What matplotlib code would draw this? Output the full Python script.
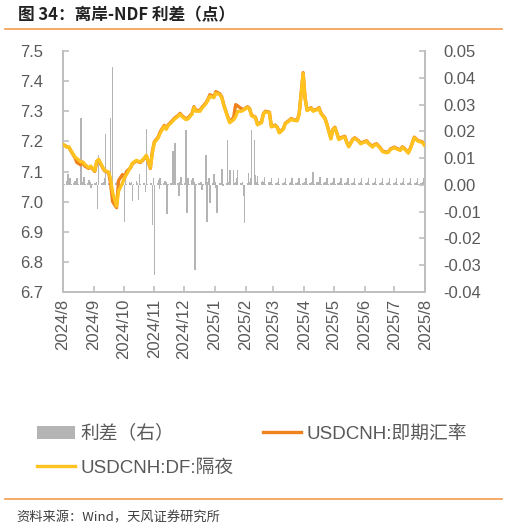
import matplotlib
matplotlib.use('Agg')
import matplotlib.pyplot as plt
import matplotlib.dates as mdates
from matplotlib.ticker import FuncFormatter, MultipleLocator
from matplotlib.lines import Line2D
import pandas as pd

plt.rcParams['font.family'] = ['Liberation Sans', 'Noto Sans CJK SC']

start = '2024-08-01'

# USDCNH spot (every 2nd business day)
spot = [7.190, 7.182, 7.180, 7.168, 7.146, 7.130, 7.122, 7.131, 7.118, 7.110,
        7.116, 7.100, 7.132, 7.138, 7.112, 7.102, 7.096, 7.060, 7.000, 6.980,
        7.070, 7.090, 7.078, 7.100, 7.112, 7.126, 7.135, 7.132, 7.130, 7.143,
        7.152, 7.110, 7.165, 7.198, 7.215, 7.232, 7.253, 7.243, 7.255, 7.268,
        7.276, 7.286, 7.293, 7.285, 7.275, 7.278, 7.293, 7.315, 7.303, 7.303,
        7.313, 7.328, 7.339, 7.355, 7.348, 7.365, 7.358, 7.348, 7.322, 7.282,
        7.265, 7.280, 7.322, 7.318, 7.308, 7.306, 7.315, 7.309, 7.287, 7.280,
        7.257, 7.264, 7.292, 7.300, 7.297, 7.250, 7.254, 7.247, 7.230, 7.242,
        7.260, 7.270, 7.276, 7.272, 7.270, 7.292, 7.428, 7.343, 7.304, 7.312,
        7.302, 7.307, 7.312, 7.294, 7.277, 7.257, 7.210, 7.240, 7.247, 7.208,
        7.212, 7.217, 7.197, 7.184, 7.207, 7.212, 7.202, 7.194, 7.197, 7.202,
        7.194, 7.183, 7.190, 7.192, 7.178, 7.168, 7.164, 7.166, 7.175, 7.181,
        7.177, 7.172, 7.182, 7.177, 7.163, 7.177, 7.214, 7.208, 7.202, 7.199,
        7.190]

# USDCNH:DF overnight
df_on = [7.190, 7.180, 7.182, 7.170, 7.148, 7.143, 7.132, 7.131, 7.124, 7.112,
         7.118, 7.102, 7.135, 7.140, 7.114, 7.104, 7.098, 7.075, 7.030, 6.985,
         7.035, 7.062, 7.080, 7.090, 7.114, 7.128, 7.137, 7.134, 7.132, 7.145,
         7.154, 7.112, 7.160, 7.195, 7.212, 7.228, 7.250, 7.240, 7.252, 7.265,
         7.273, 7.283, 7.290, 7.282, 7.272, 7.275, 7.290, 7.312, 7.300, 7.300,
         7.310, 7.325, 7.336, 7.350, 7.345, 7.360, 7.355, 7.345, 7.320, 7.280,
         7.262, 7.272, 7.282, 7.300, 7.300, 7.304, 7.313, 7.307, 7.285, 7.278,
         7.255, 7.262, 7.290, 7.298, 7.295, 7.248, 7.252, 7.245, 7.228, 7.240,
         7.258, 7.268, 7.274, 7.270, 7.268, 7.290, 7.425, 7.340, 7.302, 7.310,
         7.300, 7.305, 7.310, 7.292, 7.275, 7.255, 7.208, 7.238, 7.245, 7.206,
         7.210, 7.215, 7.195, 7.182, 7.205, 7.210, 7.200, 7.192, 7.195, 7.200,
         7.192, 7.181, 7.188, 7.190, 7.176, 7.166, 7.162, 7.164, 7.173, 7.179,
         7.175, 7.170, 7.180, 7.175, 7.161, 7.175, 7.212, 7.206, 7.200, 7.197,
         7.188]

# spread (right axis), every business day
spread = [
    0.0025, 0.0003, 0.0015, 0.0040, 0.0010,
    0.0025, 0.0003, 0.0008, 0.0015, 0.0010,
    0.0025, 0.0003, 0.0250, 0.0008, 0.0010,
    0.0030, 0.0003, 0.0008, 0.0020, 0.0010,
    -0.0010, 0.0003, 0.0008, 0.0008, 0.0010,
    -0.0090, 0.0110, 0.0008, 0.0008, 0.0010,
    0.0025, 0.0190, 0.0008, 0.0008, 0.0250,
    0.0010, 0.0440, 0.0008, 0.0012, 0.0010,
    0.0025, 0.0003, 0.0008, 0.0008, -0.0137,
    0.0025, 0.0003, 0.0010, 0.0008, 0.0010,
    -0.0060, 0.0003, 0.0015, 0.0008, -0.0056,
    0.0040, 0.0003, 0.0008, 0.0008, -0.0025,
    0.0210, 0.0003, 0.0008, 0.0008, -0.0150,
    0.0025, -0.0336, 0.0008, 0.0020, -0.0015,
    0.0025, 0.0003, 0.0008, 0.0015, 0.0010,
    -0.0110, 0.0003, 0.0008, 0.0008, 0.0125,
    0.0025, 0.0156, 0.0008, -0.0040, 0.0010,
    0.0030, 0.0003, 0.0008, 0.0205, -0.0106,
    0.0025, 0.0003, 0.0020, 0.0025, 0.0010,
    -0.0318, 0.0003, 0.0008, 0.0008, 0.0010,
    -0.0020, 0.0003, 0.0110, -0.0137, 0.0010,
    0.0025, -0.0068, 0.0008, 0.0040, 0.0010,
    -0.0010, -0.0106, 0.0008, 0.0008, 0.0060,
    -0.0006, 0.0003, 0.0008, 0.0168, 0.0010,
    0.0056, 0.0056, 0.0056, 0.0008, 0.0010,
    0.0025, 0.0056, 0.0008, 0.0008, 0.0010,
    -0.0040, -0.0143, 0.0008, 0.0044, 0.0010,
    0.0025, 0.0205, 0.0168, 0.0037, 0.0010,
    0.0035, 0.0003, 0.0010, 0.0015, 0.0012,
    0.0030, 0.0003, 0.0010, 0.0012, 0.0010,
    0.0025, 0.0003, 0.0008, 0.0008, 0.0010,
    0.0025, 0.0003, 0.0008, 0.0008, 0.0010,
    0.0025, 0.0003, 0.0008, 0.0008, 0.0010,
    0.0025, 0.0003, 0.0008, 0.0008, 0.0010,
    0.0025, 0.0003, 0.0008, 0.0008, 0.0010,
    0.0025, 0.0003, 0.0008, 0.0008, 0.0010,
    0.0050, 0.0003, 0.0010, 0.0008, 0.0010,
    0.0030, 0.0003, 0.0008, 0.0010, 0.0010,
    0.0025, 0.0003, 0.0008, 0.0008, 0.0010,
    0.0025, 0.0003, 0.0008, 0.0008, 0.0010,
    0.0025, 0.0003, 0.0008, 0.0008, 0.0010,
    0.0025, 0.0003, 0.0008, 0.0008, 0.0010,
    0.0025, 0.0003, 0.0008, 0.0008, 0.0010,
    0.0025, 0.0003, 0.0008, 0.0008, 0.0010,
    0.0025, 0.0003, 0.0008, 0.0008, 0.0010,
    0.0025, 0.0003, 0.0008, 0.0008, 0.0010,
    0.0025, 0.0003, 0.0008, 0.0008, 0.0010,
    0.0025, 0.0003, 0.0008, 0.0008, 0.0010,
    0.0025, 0.0003, 0.0008, 0.0008, 0.0010,
    0.0025, 0.0003, 0.0008, 0.0008, 0.0010,
    0.0025, 0.0003, 0.0008, 0.0008, 0.0010,
    0.0025, 0.0003, 0.0008, 0.0008, 0.0010,
    0.0025, 0.0003,
]

days = pd.bdate_range(start, periods=len(spread))
line_days = days[::2]

grey_txt = '#595959'
spine_c = '#BFBFBF'

fig = plt.figure(figsize=(5.08, 5.29), dpi=100)
ax = fig.add_axes([0.124, 0.448, 0.713, 0.4556])
ax2 = ax.twinx()

bars = ax2.bar(days, spread, width=1.5, color='#B4B4B4', linewidth=0)
l1, = ax.plot(line_days, spot, color='#F0821E', lw=2.4, zorder=2)
l2, = ax.plot(line_days, df_on, color='#FFC21F', lw=2.4, zorder=3)
ax.set_zorder(ax2.get_zorder() + 1)
ax.patch.set_visible(False)

ax.set_ylim(6.7, 7.5)
ax.yaxis.set_major_locator(MultipleLocator(0.1))
ax.yaxis.set_major_formatter(FuncFormatter(lambda v, p: f'{v:.1f}'))
ax2.set_ylim(-0.04, 0.05)
ax2.yaxis.set_major_locator(MultipleLocator(0.01))
ax2.yaxis.set_major_formatter(FuncFormatter(lambda v, p: f'{round(v, 4) + 0.0:.2f}'))

ax.set_xlim(pd.Timestamp('2024-08-01'), pd.Timestamp('2025-08-01'))
ax.xaxis.set_major_locator(mdates.MonthLocator())
ax.xaxis.set_major_formatter(FuncFormatter(
    lambda v, p: f'{mdates.num2date(v).year}/{mdates.num2date(v).month}'))

for a in (ax, ax2):
    for s in a.spines.values():
        s.set_color(spine_c)
        s.set_linewidth(1.3)
    a.spines['top'].set_visible(False)
    a.tick_params(colors=spine_c, labelcolor=grey_txt, labelsize=12,
                  direction='in', length=4, width=1.2)
ax.tick_params(axis='y', pad=14)
ax2.tick_params(axis='y', pad=13)
ax.tick_params(axis='x', pad=5, labelrotation=90)

leg = fig.legend([bars, l2, l1], ['利差（右）', 'USDCNH:DF:隔夜', 'USDCNH:即期汇率'],
                 ncol=2, loc='upper left', bbox_to_anchor=(0.073, 0.197),
                 frameon=False, fontsize=13.5, labelcolor=grey_txt,
                 handlelength=2.0, handletextpad=0.3, columnspacing=1.6,
                 labelspacing=0.9, borderpad=0, borderaxespad=0)

fig.text(0.035, 1 - 15 / 529, '图 34：离岸-NDF 利差（点）', fontsize=12,
         fontweight='bold', family='Noto Sans CJK SC', va='center', color='#222222')
fig.add_artist(Line2D([0.01, 0.988], [1 - 29 / 529] * 2, color='#F39B4C', lw=1.2,
                      transform=fig.transFigure))
fig.add_artist(Line2D([0.01, 0.988], [1 - 499 / 529] * 2, color='#F39B4C', lw=1.2,
                      transform=fig.transFigure))
fig.text(0.033, 1 - 518 / 529, '资料来源：Wind，天风证券研究所', fontsize=9.5,
         family='Noto Sans CJK SC', va='center', color='#404040')

fig.savefig('out.png', dpi=100)
